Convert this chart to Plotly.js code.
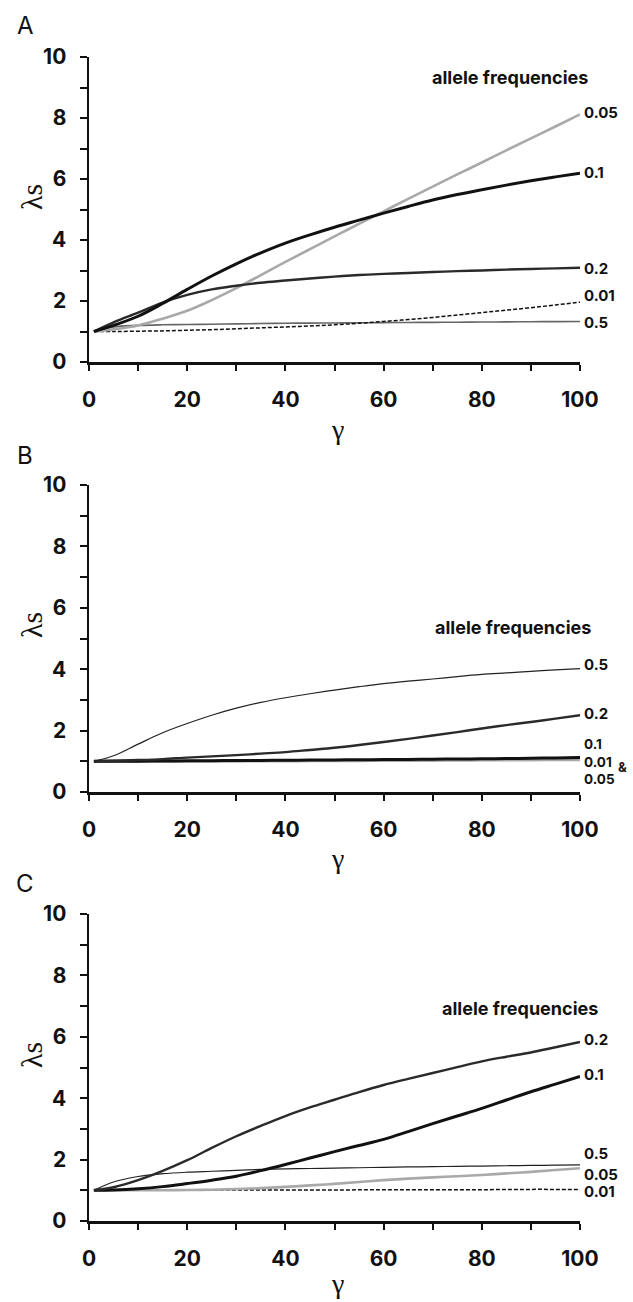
<!DOCTYPE html>
<html>
<head>
<meta charset="utf-8">
<script src="https://cdn.plot.ly/plotly-3.0.1.min.js"></script>
<style>html,body{margin:0;padding:0;background:#fff;}#chart{width:633px;height:1302px;}</style>
</head>
<body>
<div id="chart"></div>
<script>
// gamma values (x axis)
const gamma = [1, 5, 10, 15, 20, 25, 30, 35, 40, 45, 50, 55, 60, 65, 70, 75, 80, 85, 90, 95, 100];

// Panel A
const A_f005 = [1, 1.07, 1.2, 1.42, 1.68, 2.03, 2.42, 2.85, 3.28, 3.7, 4.12, 4.53, 4.94, 5.35, 5.75, 6.15, 6.54, 6.94, 7.33, 7.72, 8.12];
const A_f01  = [1, 1.2, 1.5, 1.92, 2.38, 2.82, 3.22, 3.58, 3.9, 4.17, 4.42, 4.65, 4.88, 5.1, 5.31, 5.49, 5.65, 5.8, 5.94, 6.07, 6.19];
const A_f02  = [1, 1.3, 1.62, 1.95, 2.2, 2.38, 2.5, 2.6, 2.67, 2.74, 2.8, 2.85, 2.89, 2.92, 2.95, 2.98, 3.0, 3.03, 3.05, 3.07, 3.09];
const A_f001 = [1, 1, 1.01, 1.02, 1.04, 1.06, 1.09, 1.12, 1.15, 1.18, 1.22, 1.27, 1.33, 1.39, 1.46, 1.54, 1.62, 1.7, 1.78, 1.87, 1.96];
const A_f05  = [1, 1.15, 1.2, 1.22, 1.23, 1.24, 1.25, 1.26, 1.27, 1.275, 1.28, 1.285, 1.29, 1.295, 1.3, 1.305, 1.31, 1.315, 1.32, 1.325, 1.33];

// Panel B
const B_f05  = [1, 1.18, 1.56, 1.93, 2.23, 2.5, 2.73, 2.92, 3.07, 3.2, 3.32, 3.43, 3.53, 3.61, 3.68, 3.76, 3.83, 3.88, 3.93, 3.98, 4.02];
const B_f02  = [1, 1.02, 1.04, 1.07, 1.12, 1.16, 1.2, 1.25, 1.3, 1.37, 1.44, 1.53, 1.63, 1.73, 1.84, 1.95, 2.07, 2.18, 2.28, 2.39, 2.5];
const B_f01  = [1, 1, 1.005, 1.01, 1.015, 1.02, 1.025, 1.03, 1.035, 1.04, 1.045, 1.05, 1.055, 1.06, 1.07, 1.075, 1.08, 1.09, 1.1, 1.11, 1.12];
const B_f001_005 = [1, 1, 1, 1, 1, 1, 1.005, 1.01, 1.01, 1.015, 1.02, 1.02, 1.025, 1.03, 1.03, 1.035, 1.04, 1.04, 1.045, 1.05, 1.05];

// Panel C
const C_f02  = [1, 1.1, 1.33, 1.63, 1.98, 2.38, 2.76, 3.1, 3.42, 3.7, 3.95, 4.2, 4.43, 4.63, 4.82, 5.01, 5.2, 5.35, 5.49, 5.66, 5.83];
const C_f01  = [1, 1.01, 1.05, 1.12, 1.22, 1.33, 1.46, 1.64, 1.84, 2.05, 2.26, 2.46, 2.66, 2.91, 3.17, 3.42, 3.67, 3.94, 4.21, 4.46, 4.71];
const C_f05  = [1, 1.27, 1.45, 1.54, 1.59, 1.62, 1.65, 1.68, 1.7, 1.71, 1.72, 1.735, 1.75, 1.76, 1.77, 1.78, 1.79, 1.8, 1.81, 1.82, 1.83];
const C_f005 = [1, 1, 1, 1, 1.01, 1.02, 1.04, 1.07, 1.11, 1.16, 1.21, 1.27, 1.33, 1.38, 1.42, 1.46, 1.5, 1.55, 1.6, 1.66, 1.72];
const C_f001 = [1, 1, 1, 1, 1, 1.005, 1.01, 1.01, 1.01, 1.01, 1.01, 1.015, 1.02, 1.02, 1.02, 1.02, 1.02, 1.025, 1.03, 1.03, 1.03];

const panelLetters = ['A', 'B', 'C'];
const yTickVals = [0, 2, 4, 6, 8, 10];
const yMinorVals = [1, 3, 5, 7, 9];
const xTickVals = [0, 20, 40, 60, 80, 100];
const xMinorVals = [10, 30, 50, 70, 90];

const W = 633, H = 1302;
const xDom = [89 / W, 580 / W];
const panelsPx = [[57, 362], [485, 792], [914, 1221]];
const yDoms = panelsPx.map(p => [1 - p[1] / H, 1 - p[0] / H]);

const styles = {
  gray:  {color: '#a9a9a9', width: 2.6},
  black: {color: '#111', width: 3},
  dark:  {color: '#2a2a2a', width: 2.4},
  dash:  {color: '#111', width: 1.5, dash: '4px,2px'},
  thinGray: {color: '#666', width: 1.6},
  thin:  {color: '#222', width: 1.2}
};

function tr(y, st, ax) {
  return {x: gamma, y: y, type: 'scatter', mode: 'lines',
    line: Object.assign({shape: 'spline', smoothing: 1.0}, st),
    xaxis: 'x' + ax, yaxis: 'y' + ax, hoverinfo: 'skip'};
}

const data = [
  tr(A_f05, styles.thinGray, ''),
  tr(A_f001, styles.dash, ''),
  tr(A_f005, styles.gray, ''),
  tr(A_f02, styles.dark, ''),
  tr(A_f01, styles.black, ''),

  tr(B_f001_005, Object.assign({}, styles.gray, {width: 3}), '2'),
  tr(B_f01, styles.black, '2'),
  tr(B_f02, styles.dark, '2'),
  tr(B_f05, styles.thin, '2'),

  tr(C_f001, styles.dash, '3'),
  tr(C_f005, styles.gray, '3'),
  tr(C_f05, styles.thin, '3'),
  tr(C_f01, styles.black, '3'),
  tr(C_f02, styles.dark, '3')
];

const SANS = 'Inter, Liberation Sans, Arial, sans-serif';
const tickFont = {family: SANS, size: 21, color: '#111', weight: 700};

function xaxisDef(anchor) {
  return {domain: xDom, anchor: anchor, range: [0, 100], tickvals: xTickVals,
    showgrid: false, zeroline: false, showline: true, linecolor: '#111', linewidth: 2.5,
    ticks: 'outside', ticklen: 6, tickwidth: 2, tickcolor: '#111', ticklabelstandoff: 11,
    minor: {tickvals: xMinorVals, ticks: 'outside', ticklen: 6, tickwidth: 2, tickcolor: '#111'},
    tickfont: tickFont, fixedrange: true};
}
function yaxisDef(dom, anchor) {
  return {domain: dom, anchor: anchor, range: [0, 10], tickvals: yTickVals,
    showgrid: false, zeroline: false, showline: true, linecolor: '#111', linewidth: 2.5,
    ticks: 'outside', ticklen: 7, tickwidth: 2, tickcolor: '#111', ticklabelstandoff: 9,
    minor: {tickvals: yMinorVals, ticks: 'outside', ticklen: 7, tickwidth: 2, tickcolor: '#111'},
    tickfont: tickFont, fixedrange: true};
}

const lblFont = {family: SANS, size: 15, color: '#111', weight: 700};
const stackFont = {family: SANS, size: 13.5, color: '#111', weight: 700};
const headFont = {family: SANS, size: 18, color: '#111', weight: 700};
const greekFont = {family: 'Liberation Serif, DejaVu Serif, serif', size: 30, color: '#111'};
const gammaFont = {family: 'Liberation Serif, DejaVu Serif, serif', size: 28, color: '#111'};
const letterFont = {family: SANS, size: 24, color: '#111'};

function lab(ax, y, text) {
  return {xref: 'x' + ax, yref: 'y' + ax, x: 100, y: y, text: text, showarrow: false,
    xanchor: 'left', yanchor: 'middle', xshift: 2, font: lblFont};
}

const annotations = [
  // panel A labels
  {xref: 'x', yref: 'y', x: 85.7, y: 9.32, text: 'allele frequencies', showarrow: false, font: headFont},
  lab('', 8.17, '0.05'), lab('', 6.22, '0.1'), lab('', 3.08, '0.2'), lab('', 2.17, '0.01'), lab('', 1.31, '0.5'),
  // panel B
  {xref: 'x2', yref: 'y2', x: 86.4, y: 5.37, text: 'allele frequencies', showarrow: false, font: headFont},
  lab('2', 4.14, '0.5'), lab('2', 2.57, '0.2'),
  {xref: 'x2', yref: 'y2', x: 100, y: 0.98, text: '0.1<br>0.01<br>0.05', showarrow: false,
   xanchor: 'left', yanchor: 'middle', align: 'left', xshift: 2, font: stackFont},
  {xref: 'x2', yref: 'y2', x: 100, y: 0.8, text: '&', showarrow: false, xanchor: 'left', xshift: 36,
   font: {family: SANS, size: 13, color: '#111', weight: 700}},
  // panel C
  {xref: 'x3', yref: 'y3', x: 87.8, y: 6.93, text: 'allele frequencies', showarrow: false, font: headFont},
  lab('3', 5.9, '0.2'), lab('3', 4.76, '0.1'), lab('3', 2.21, '0.5'), lab('3', 1.53, '0.05'), lab('3', 0.95, '0.01')
];

const letterY = [25, 455, 883];
const lambdaY = [197, 625, 1055];
const gammaY = [430, 858, 1283];
for (let i = 0; i < 3; i++) {
  annotations.push({xref: 'paper', yref: 'paper', x: 25 / W, y: 1 - letterY[i] / H, text: panelLetters[i],
    showarrow: false, xanchor: 'center', yanchor: 'middle', font: letterFont});
  annotations.push({xref: 'paper', yref: 'paper', x: 31 / W, y: 1 - lambdaY[i] / H, text: 'λs',
    showarrow: false, textangle: -90, xanchor: 'center', yanchor: 'middle', font: greekFont});
  annotations.push({xref: 'paper', yref: 'paper', x: 337 / W, y: 1 - gammaY[i] / H, text: 'γ',
    showarrow: false, xanchor: 'center', yanchor: 'middle', font: gammaFont});
}

const layout = {
  width: W, height: H,
  margin: {l: 0, r: 0, t: 0, b: 0, pad: 0},
  paper_bgcolor: '#fff', plot_bgcolor: '#fff',
  showlegend: false,
  xaxis: xaxisDef('y'), yaxis: yaxisDef(yDoms[0], 'x'),
  xaxis2: xaxisDef('y2'), yaxis2: yaxisDef(yDoms[1], 'x2'),
  xaxis3: xaxisDef('y3'), yaxis3: yaxisDef(yDoms[2], 'x3'),
  annotations: annotations
};

Plotly.newPlot('chart', data, layout, {staticPlot: true, displayModeBar: false});
</script>
</body>
</html>
